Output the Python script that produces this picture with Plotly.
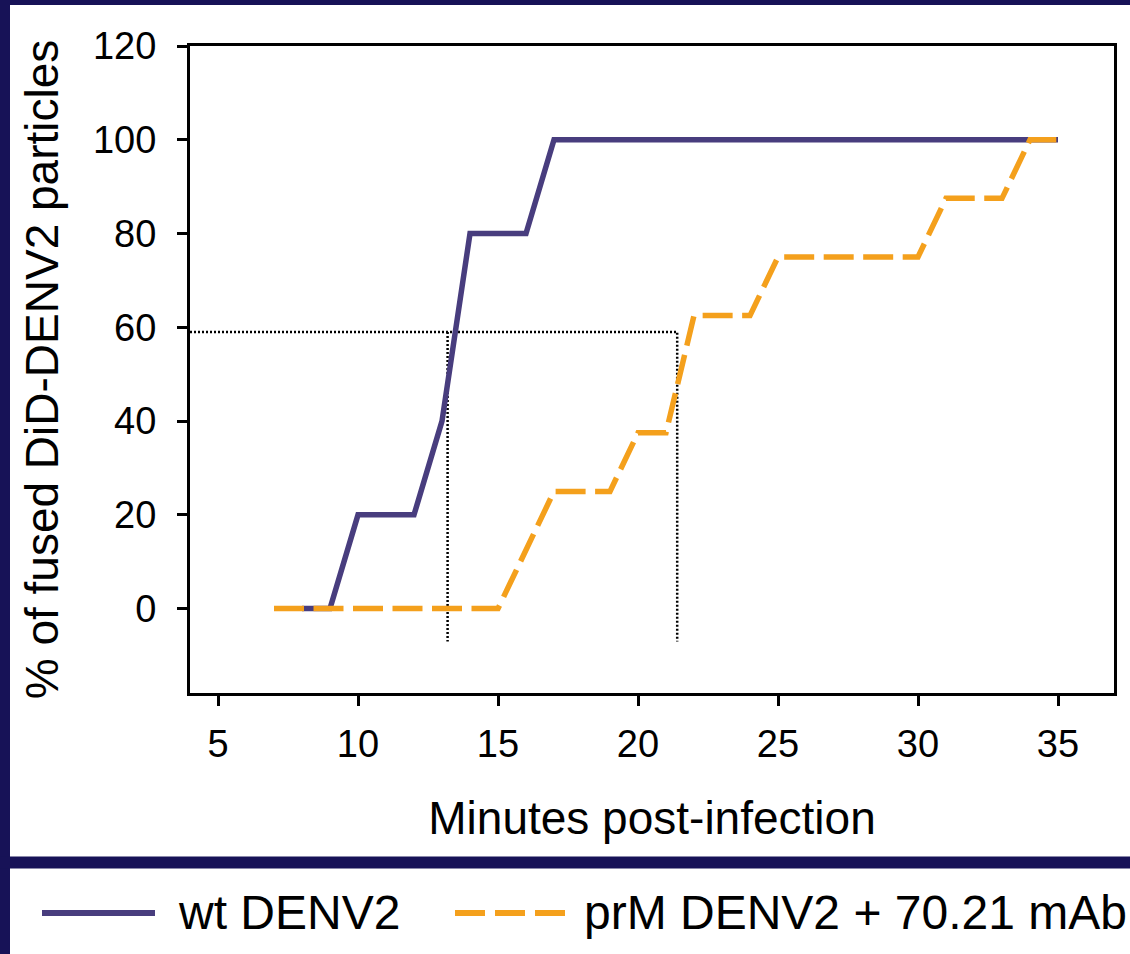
import plotly.graph_objects as go

# ---- data ----
wt_minutes = [8, 9, 10, 12, 13, 14, 16, 17, 35]
wt_fused = [0, 0, 20, 20, 40, 80, 80, 100, 100]

prm_minutes = [7, 15, 17, 19, 20, 21, 22, 24, 25, 30, 31, 33, 34, 35]
prm_fused = [0, 0, 25, 25, 37.5, 37.5, 62.5, 62.5, 75, 75, 87.5, 87.5, 100, 100]

series_names = ["wt DENV2", "prM DENV2 + 70.21 mAb"]
x_ticks = [5, 10, 15, 20, 25, 30, 35]
y_ticks = [0, 20, 40, 60, 80, 100, 120]
x_range = [4, 37]
y_range = [-18, 120]

# 60%-fusion guide lines (dotted)
guide_level = 59
guide_floor = -7
t_wt = 13.2
t_prm = 21.4

# ---- style ----
NAVY = "#171257"
PURPLE = "#483D7E"
ORANGE = "#F4A01C"
FONT = "Liberation Sans, Arial, sans-serif"

W, H = 1130, 954
ML, MR, MT, MB = 190, 16, 46, 261
PW = W - ML - MR
PH = H - MT - MB


def px_x(p):
    return (p - ML) / PW


def px_y(p):
    return (H - MB - p) / PH


fig = go.Figure()

guide_x = [x_range[0], t_prm, t_prm, None, t_wt, t_wt]
guide_y = [guide_level, guide_level, guide_floor, None, guide_level, guide_floor]
fig.add_trace(go.Scatter(
    x=guide_x, y=guide_y, mode="lines",
    line=dict(color="black", width=2.5, dash="2px,2px"),
    showlegend=False, hoverinfo="skip",
))

fig.add_trace(go.Scatter(
    x=wt_minutes, y=wt_fused, mode="lines", name=series_names[0],
    line=dict(color=PURPLE, width=5.5), showlegend=False,
))
fig.add_trace(go.Scatter(
    x=prm_minutes, y=prm_fused, mode="lines", name=series_names[1],
    line=dict(color=ORANGE, width=5.5, dash="30px,9.5px"), showlegend=False,
))

shapes = [
    # navy frame pieces
    dict(type="rect", xref="paper", yref="paper", x0=px_x(-5), x1=px_x(10),
         y0=px_y(H + 5), y1=px_y(-5), fillcolor=NAVY, line=dict(width=0), layer="above"),
    dict(type="rect", xref="paper", yref="paper", x0=px_x(-5), x1=px_x(W + 5),
         y0=px_y(5), y1=px_y(-5), fillcolor=NAVY, line=dict(width=0), layer="above"),
    dict(type="rect", xref="paper", yref="paper", x0=px_x(-5), x1=px_x(W + 5),
         y0=px_y(868.5), y1=px_y(856.5), fillcolor=NAVY, line=dict(width=0), layer="above"),
    # legend samples
    dict(type="line", xref="paper", yref="paper", x0=px_x(42), x1=px_x(155),
         y0=px_y(913), y1=px_y(913), line=dict(color=PURPLE, width=6)),
    dict(type="line", xref="paper", yref="paper", x0=px_x(455), x1=px_x(566),
         y0=px_y(913), y1=px_y(913), line=dict(color=ORANGE, width=6, dash="30px,10px")),
]

annotations = [
    dict(text=series_names[0], xref="paper", yref="paper", x=px_x(176), y=px_y(913),
         xanchor="left", yanchor="middle", showarrow=False,
         font=dict(family=FONT, size=48, color="black")),
    dict(text=series_names[1], xref="paper", yref="paper", x=px_x(582), y=px_y(913),
         xanchor="left", yanchor="middle", showarrow=False,
         font=dict(family=FONT, size=48, color="black")),
]

fig.update_layout(
    width=W, height=H,
    margin=dict(l=ML, r=MR, t=MT, b=MB, pad=0),
    paper_bgcolor="white", plot_bgcolor="white",
    font=dict(family=FONT, color="black"),
    shapes=shapes, annotations=annotations,
    showlegend=False,
)

fig.update_xaxes(
    range=x_range, tickvals=x_ticks, showgrid=False, zeroline=False,
    showline=True, linecolor="black", linewidth=3, mirror=True,
    ticks="outside", ticklen=10, tickwidth=3, tickcolor="black",
    tickfont=dict(family=FONT, size=38), ticklabelstandoff=5,
    title=dict(text="Minutes post-infection", font=dict(family=FONT, size=46), standoff=39),
)
fig.update_yaxes(
    range=y_range, tickvals=y_ticks, showgrid=False, zeroline=False,
    showline=True, linecolor="black", linewidth=3, mirror=True,
    ticks="outside", ticklen=10, tickwidth=3, tickcolor="black",
    tickfont=dict(family=FONT, size=38), ticklabelstandoff=13,
    title=dict(text="% of fused DiD-DENV2 particles", font=dict(family=FONT, size=46), standoff=20),
)

fig.write_html(
    "out.html",
    config={"displayModeBar": False},
    post_script="document.body.style.margin='0';document.body.style.overflow='hidden';",
)
